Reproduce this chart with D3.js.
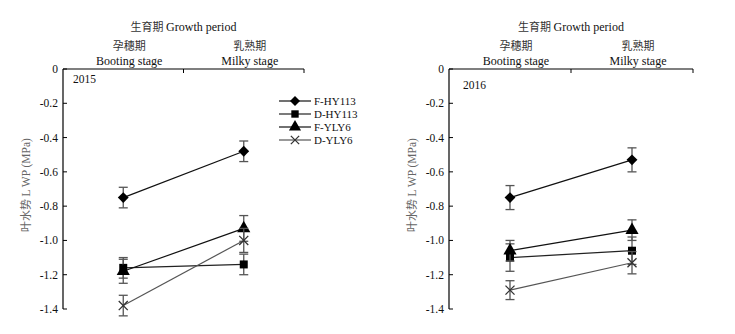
<!DOCTYPE html>
<meta charset="UTF-8">
<script src="https://cdnjs.cloudflare.com/ajax/libs/d3/7.4.4/d3.min.js"></script>
<style>
    body { margin: 0; background: #fff; }
    text { font-family: "Liberation Serif", "Noto Sans CJK SC", serif; fill: #111; }
</style>
<svg id="my_dataviz" width="735" height="334"></svg>
<script>
    // growth stages along the top axis
    let stagesCn = ["孕穗期", "乳熟期"];
    let stagesEn = ["Booting stage", "Milky stage"];
    let yTicks = [0, -0.2, -0.4, -0.6, -0.8, -1.0, -1.2, -1.4];
    let seriesNames = ["F-HY113", "D-HY113", "F-YLY6", "D-YLY6"];
    let years = ["2015", "2016"];

    // leaf water potential (MPa), [booting, milky]
    let lwp2015 = [[-0.75, -0.48], [-1.16, -1.14], [-1.18, -0.93], [-1.38, -1.00]];
    let err2015 = [[0.06, 0.06], [0.06, 0.06], [0.07, 0.075], [0.06, 0.07]];
    let lwp2016 = [[-0.75, -0.53], [-1.10, -1.06], [-1.06, -0.94], [-1.29, -1.13]];
    let err2016 = [[0.07, 0.07], [0.08, 0.08], [0.06, 0.06], [0.055, 0.065]];

    let svg = d3.select("svg");
    let symbols = [d3.symbolDiamond2, d3.symbolSquare, d3.symbolTriangle, d3.symbolX];
    let symSize = [75, 64, 75, 55];
    let lineCol = ["#111", "#222", "#111", "#555"];

    let y = d3.scaleLinear().domain([0, -1.4]).range([69, 309]);
    // plain hyphen for the minus sign
    let fmt = d => d === 0 ? "0" : d3.format(".1f")(d).replace("\u2212", "-");

    function drawPanel(x0, x1, year, vals, errs, showLegend) {
        let x = d3.scaleBand().domain(stagesEn).range([x0, x1]);
        let g = svg.append("g");
        let cx = d => x(d) + x.bandwidth() / 2;

        // left axis with inward ticks
        g.append("line").attr("x1", x0).attr("x2", x0).attr("y1", y(0)).attr("y2", y(-1.4))
            .attr("stroke", "#000").attr("stroke-width", 1.2);
        g.selectAll(".yt").data(yTicks).enter().append("line")
            .attr("x1", x0).attr("x2", x0 + 4)
            .attr("y1", d => y(d)).attr("y2", d => y(d))
            .attr("stroke", "#000");
        g.selectAll(".yl").data(yTicks).enter().append("text")
            .attr("x", x0 - 5).attr("y", d => y(d)).attr("dy", "0.35em")
            .attr("text-anchor", "end").style("font-size", "11.5px")
            .text(fmt);

        // top axis, ticks on band edges
        g.append("line").attr("x1", x0).attr("x2", x1).attr("y1", y(0)).attr("y2", y(0))
            .attr("stroke", "#000").attr("stroke-width", 1.2);
        g.selectAll(".xt").data(stagesEn).enter().append("line")
            .attr("x1", d => x(d) + x.bandwidth()).attr("x2", d => x(d) + x.bandwidth())
            .attr("y1", y(0)).attr("y2", y(0) + 4)
            .attr("stroke", "#000");

        g.selectAll(".xc").data(stagesCn).enter().append("text")
            .attr("x", (d, i) => cx(stagesEn[i]) + 6).attr("y", 50)
            .attr("text-anchor", "middle")
            .style("font-family", "Noto Sans CJK SC").style("font-size", "11px").style("fill", "#333")
            .text(d => d);
        g.selectAll(".xe").data(stagesEn).enter().append("text")
            .attr("x", d => cx(d) + 6).attr("y", 65)
            .attr("text-anchor", "middle").style("font-size", "12px")
            .text(d => d);

        let title = g.append("text").attr("x", (x0 + x1) / 2).attr("y", 31)
            .attr("text-anchor", "middle").style("font-size", "12px");
        title.append("tspan").style("font-family", "Noto Sans CJK SC").style("font-size", "11px")
            .style("fill", "#333").text("生育期 ");
        title.append("tspan").text("Growth period");

        // y axis title
        let yl = g.append("text")
            .attr("transform", "translate(" + (x0 - 33) + "," + 185 + ") rotate(-90)")
            .attr("text-anchor", "middle").style("font-size", "11.5px").style("fill", "#666");
        yl.append("tspan").style("font-family", "Noto Sans CJK SC").style("font-size", "11px").text("叶水势 ");
        yl.append("tspan").style("fill", "#666").text("L WP (MPa)");

        g.append("text").attr("x", x0 + (year === "2015" ? 10 : 14)).attr("y", year === "2015" ? 83 : 89)
            .style("font-size", "11.5px").text(year);

        // series: lines, error bars, markers
        vals.forEach(function (s, k) {
            let pts = s.map((v, i) => ({x: cx(stagesEn[i]), v: v, e: errs[k][i]}));
            g.append("path")
                .attr("d", d3.line().x(p => p.x).y(p => y(p.v))(pts))
                .attr("fill", "none").attr("stroke", lineCol[k]).attr("stroke-width", 1.2);
            pts.forEach(function (p) {
                let eb = g.append("g").attr("stroke", "#555").attr("stroke-width", 1.3);
                eb.append("line").attr("x1", p.x).attr("x2", p.x)
                    .attr("y1", y(p.v - p.e)).attr("y2", y(p.v + p.e));
                [p.v - p.e, p.v + p.e].forEach(function (c) {
                    eb.append("line").attr("x1", p.x - 4.5).attr("x2", p.x + 4.5)
                        .attr("y1", y(c)).attr("y2", y(c));
                });
            });
            g.selectAll(".m" + k).data(pts).enter().append("path")
                .attr("transform", p => "translate(" + p.x + "," + y(p.v) + ")")
                .attr("d", d3.symbol().type(symbols[k]).size(symSize[k]))
                .attr("fill", k === 3 ? "none" : "#000")
                .attr("stroke", k === 3 ? "#333" : "none").attr("stroke-width", 1.3);
        });

        if (showLegend) {
            let rowsY = [101, 114, 127, 140];
            let lg = g.append("g");
            seriesNames.forEach(function (n, k) {
                lg.append("line").attr("x1", 279).attr("x2", 311)
                    .attr("y1", rowsY[k]).attr("y2", rowsY[k])
                    .attr("stroke", lineCol[k]).attr("stroke-width", 1.2);
                lg.append("path").attr("transform", "translate(295," + rowsY[k] + ")")
                    .attr("d", d3.symbol().type(symbols[k]).size(symSize[k] * 0.85))
                    .attr("fill", k === 3 ? "none" : "#000")
                    .attr("stroke", k === 3 ? "#333" : "none").attr("stroke-width", 1.3);
                lg.append("text").attr("x", 314).attr("y", rowsY[k]).attr("dy", "0.35em")
                    .style("font-size", "11px").text(n);
            });
        }
    }

    drawPanel(63, 304, years[0], lwp2015, err2015, true);
    drawPanel(449, 693, years[1], lwp2016, err2016, false);
</script>
